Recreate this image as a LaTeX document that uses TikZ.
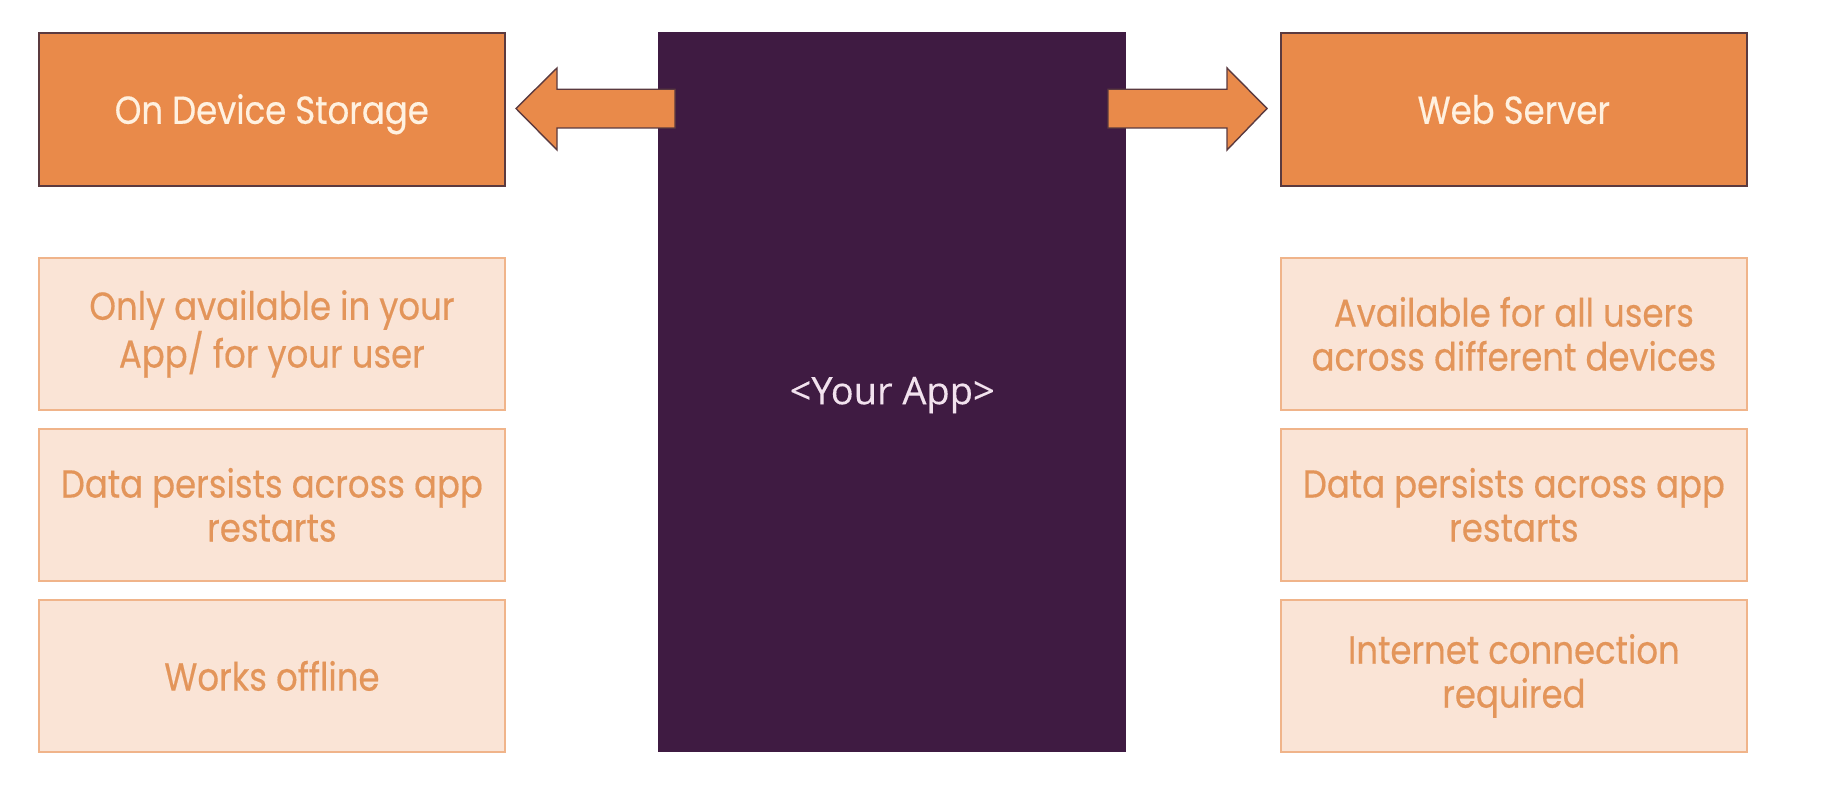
\documentclass[tikz,border=0pt]{standalone}
\usepackage{fontspec}
\setmainfont{Poppins}
\newfontfamily\appfont[FakeBold=0.3]{Open Sans}
\newfontfamily\boxfont[FakeStretch=0.87,FakeBold=0.4]{Poppins}
\definecolor{orangeF}{HTML}{E98A4A}
\definecolor{orangeB}{HTML}{5B3A3F}
\definecolor{orangeT}{HTML}{FFF1E0}
\definecolor{lightF}{HTML}{FAE4D6}
\definecolor{lightB}{HTML}{F0B48A}
\definecolor{lightT}{HTML}{E3955A}
\definecolor{purpleF}{HTML}{3F1B42}
\definecolor{appT}{HTML}{F2E2EE}
\begin{document}
\begin{tikzpicture}[x=1pt,y=-1pt,
  obox/.style={draw=orangeB, line width=1.6pt, fill=orangeF, text=orangeT,
    minimum width=466pt, minimum height=153pt, anchor=north west, inner sep=0pt,
    text height=27pt, text depth=0pt,
    font=\boxfont\fontsize{39}{46}\selectfont},
  lbox/.style={draw=lightB, line width=1.8pt, fill=lightF, text=lightT,
    minimum width=466pt, minimum height=152pt, anchor=north west, inner sep=0pt,
    align=center, font=\boxfont\fontsize{39}{44}\selectfont},
  appbox/.style={fill=purpleF, text=appT, minimum width=468pt, minimum height=720pt,
    anchor=north west, inner sep=0pt, text height=27pt, text depth=0pt,
    font=\appfont\fontsize{38}{44}\selectfont},
  blockarrow/.style={draw=orangeB, line width=1.4pt, fill=orangeF, line join=miter}]
\useasboundingbox (0,0) rectangle (1826,802);
\fill[white] (0,0) rectangle (1826,802);

\node[appbox] (app) at (658,32) {\raisebox{1.5pt}{<Your App>}};

\node[obox] (ods) at (38,32) {\raisebox{-1pt}{On Device Storage}};
\node[obox] (web) at (1280,32) {\raisebox{-1pt}{Web Server}};

\node[lbox] (l1) at (38,257) {\raisebox{-2pt}{Only available in your}\\\raisebox{-2pt}{App/ for your user}};
\node[lbox] (l2) at (38,428) {\raisebox{-2pt}{Data persists across app}\\\raisebox{-2pt}{restarts}};
\node[lbox] (l3) at (38,599) {Works offline};

\node[lbox] (r1) at (1280,257) {\raisebox{-2pt}{Available for all users}\\\raisebox{-2pt}{across different devices}};
\node[lbox] (r2) at (1280,428) {\raisebox{-2pt}{Data persists across app}\\\raisebox{-2pt}{restarts}};
\node[lbox] (r3) at (1280,599) {\raisebox{-2pt}{Internet connection}\\\raisebox{-2pt}{required}};

\draw[blockarrow] (675,89.3) -- (557,89.3) -- (557,68) -- (516,108.5) -- (557,150) -- (557,128) -- (675,128) -- cycle;
\draw[blockarrow] (1108,89.3) -- (1227,89.3) -- (1227,68) -- (1267,108.5) -- (1227,150) -- (1227,128) -- (1108,128) -- cycle;
\end{tikzpicture}
\end{document}
